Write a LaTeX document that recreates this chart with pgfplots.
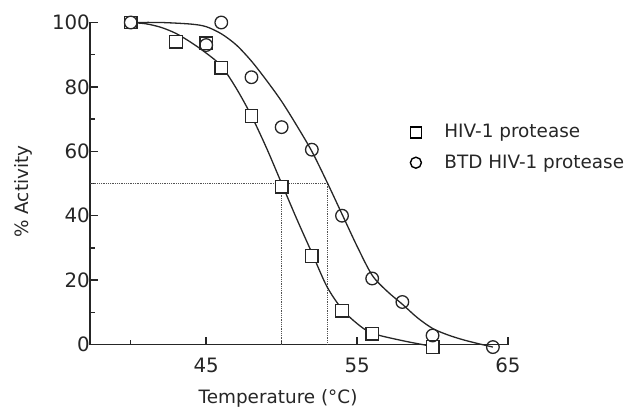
\documentclass[border=0pt]{standalone}
\usepackage{fontspec}
\setmainfont{DejaVu Sans}
\usepackage{pgfplots}
\pgfplotsset{compat=1.18}
\definecolor{ink}{gray}{0.15}
\begin{document}
\fontsize{18.4bp}{22bp}\selectfont
\begin{tikzpicture}
\begin{axis}[
    name=a,
    scale only axis,
    width=418bp, height=322bp,
    xmin=37.3, xmax=65, ymin=0, ymax=100,
    clip=false,
    axis x line=bottom, axis y line=left,
    axis line style={-, line width=1.8bp, ink},
    xtick={45,55,65}, minor xtick={40,50,60},
    ytick={0,20,...,100}, minor ytick={10,30,50,70,90},
    tick align=inside,
    major tick length=8bp, minor tick length=4.5bp,
    every tick/.style={line width=1.5bp, ink},
    /pgf/number format/assume math mode=true,
    ticklabel style={text=ink, inner sep=0pt, font=\fontsize{19.8bp}{22bp}\selectfont},
    xticklabel style={yshift=-13bp},
    xlabel={Temperature (°C)},
    ylabel={\% Activity},
    xlabel style={at={([yshift=-54bp]axis description cs:0.45,0)}, anchor=center, text=ink},
    ylabel style={at={([xshift=-67bp]axis description cs:0,0.475)}, anchor=center, text=ink},
    legend style={at={(rel axis cs:0.766,0.684)}, anchor=north west, draw=none, fill=none,
        inner sep=0pt, row sep=14bp, column sep=23bp, text=ink, nodes={inner sep=0pt}},
    legend cell align=left,
    legend image code/.code={\draw plot coordinates {(6bp,0bp)};},
    legend image post style={mark size=5.5bp, mark options={line width=1.4bp, fill=white}},
]
% reference lines at half activity
\addplot[ink!80, line width=0.8bp, densely dotted, forget plot] coordinates {(37.3,50) (53,50)};
\addplot[ink!80, line width=0.8bp, densely dotted, forget plot] coordinates {(50,0) (50,50)};
\addplot[ink!80, line width=0.8bp, densely dotted, forget plot] coordinates {(53,0) (53,50)};

% fitted curves
\addplot[ink, line width=1.3bp, smooth, forget plot] coordinates {
    (40,100) (41,99.6) (42,98.5) (43,96.6) (44,93.8) (45,90.5) (46,86.5) (47,79.5)
    (48,71) (49,61) (50,50) (51,39) (52,28.5) (53,18) (54,11) (55,6.5) (56,3.5)
    (58,1.2) (60,-0.6)
};
\addplot[ink, line width=1.3bp, smooth, forget plot] coordinates {
    (40,100) (42,100) (44,99.5) (45,98.7) (46,96.5) (47,93) (48,88) (49,82)
    (50,75.5) (51,68) (52,60) (53,50.5) (54,40.5) (55,30.5) (56,21.5) (57,16.5)
    (58,12.5) (59,8.3) (60,5) (61,3) (62,1.5) (63,0.3) (64,-0.8)
};

% data
\addplot[only marks, mark=square*, mark size=6.3bp,
    mark options={fill=white, draw=ink, line width=1.3bp}] coordinates {
    (40,100) (43,94) (45,93.5) (46,86) (48,71) (50,49) (52,27.5) (54,10.5) (56,3.4) (60,-0.8)
};
\addlegendentry{HIV-1 protease}
\addplot[only marks, mark=o, mark size=6.3bp,
    mark options={fill=white, draw=ink, line width=1.3bp}] coordinates {
    (40,100) (45,93) (46,100) (48,83) (50,67.5) (52,60.5) (54,40) (56,20.5) (58,13.2) (60,2.8) (64,-0.8)
};
\addlegendentry{BTD HIV-1 protease}
\end{axis}
\pgfresetboundingbox
\path ([shift={(-90bp,-70.5bp)}]a.south west) rectangle ([shift={(539bp,344.5bp)}]a.south west);
\end{tikzpicture}
\end{document}
